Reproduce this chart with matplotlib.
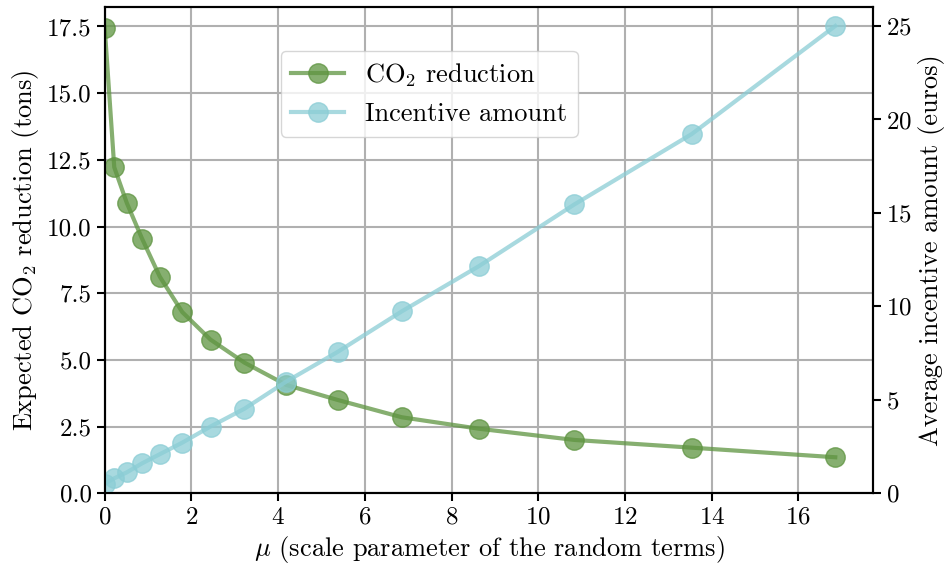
import matplotlib
matplotlib.use("Agg")
import matplotlib.pyplot as plt

plt.rcParams['font.family'] = 'serif'
plt.rcParams['font.serif'] = ['cmr10']
plt.rcParams['mathtext.fontset'] = 'cm'
plt.rcParams['axes.unicode_minus'] = False
plt.rcParams['axes.formatter.use_mathtext'] = True

# scale parameter mu
mu = [0.0, 0.22, 0.51, 0.86, 1.27, 1.79, 2.44, 3.22, 4.19, 5.37, 6.85, 8.63, 10.83, 13.54, 16.85]
# expected CO2 reduction (tons)
co2 = [17.45, 12.22, 10.88, 9.55, 8.12, 6.79, 5.76, 4.90, 4.06, 3.50, 2.85, 2.42, 2.00, 1.71, 1.35]
# average incentive amount (euros)
incentive = [0.5, 0.80, 1.12, 1.60, 2.09, 2.71, 3.57, 4.52, 5.98, 7.56, 9.73, 12.15, 15.45, 19.22, 25.0]

green = '#5e9440'
cyan = '#8bcdd5'

fig = plt.figure(figsize=(9.52, 5.7), dpi=100)
ax1 = fig.add_axes([0.110, 0.1346, 0.807, 0.8526])
ax2 = ax1.twinx()

l1, = ax1.plot(mu, co2, color=green, marker='o', markersize=14, linewidth=3,
               alpha=0.75, label='CO$_2$ reduction')
l2, = ax2.plot(mu, incentive, color=cyan, marker='o', markersize=14, linewidth=3,
               alpha=0.75, label='Incentive amount')

ax1.set_xlim(0, 17.72)
ax1.set_ylim(0, max(co2) * 1.044)
ax2.set_ylim(0, max(incentive) * 1.04)
ax1.set_xticks([0, 2, 4, 6, 8, 10, 12, 14, 16])
ax1.set_yticks([0, 2.5, 5, 7.5, 10, 12.5, 15, 17.5])
ax1.set_yticklabels(['0.0', '2.5', '5.0', '7.5', '10.0', '12.5', '15.0', '17.5'])
ax2.set_yticks([0, 5, 10, 15, 20, 25])

ax1.grid(True, color='#b0b0b0', linewidth=1.5)
ax1.set_axisbelow(True)

for ax in (ax1, ax2):
    ax.tick_params(labelsize=18, width=1.5, length=6, colors='black')
    for s in ax.spines.values():
        s.set_linewidth(1.5)

ax1.set_xlabel(r'$\mu$ (scale parameter of the random terms)', fontsize=19)
ax1.set_ylabel('Expected CO$_2$ reduction (tons)', fontsize=19)
ax2.set_ylabel('Average incentive amount (euros)', fontsize=19)

ax2.legend(handles=[l1, l2], loc='upper left', bbox_to_anchor=(0.229, 0.91),
           borderaxespad=0, fontsize=19)

fig.savefig('out.png', dpi=100)
